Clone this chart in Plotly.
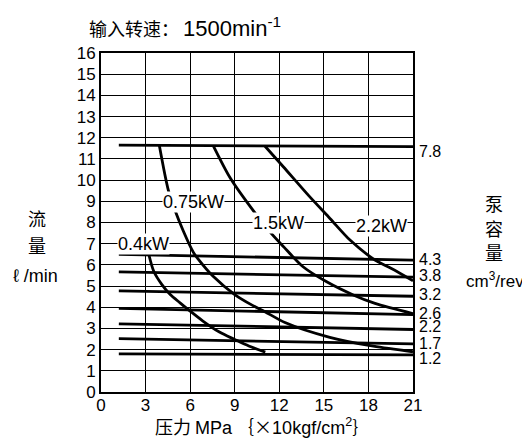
import plotly.graph_objects as go

# ---- data ----
pressure_ticks = [0, 3, 6, 9, 12, 15, 18, 21]
flow_ticks = list(range(0, 17))

# pump displacement lines
disp_labels = ["7.8", "4.3", "3.8", "3.2", "2.6", "2.2", "1.7", "1.2"]
disp_x0 = [1.2, 1.2, 1.2, 1.2, 1.2, 1.2, 1.2, 1.2]
disp_x1 = [21, 21, 21, 21, 21, 21, 21, 21]
disp_y0 = [11.65, 6.50, 5.67, 4.77, 3.95, 3.22, 2.52, 1.80]
disp_y1 = [11.58, 6.22, 5.42, 4.52, 3.65, 2.95, 2.27, 1.75]
disp_label_y = [11.37, 6.25, 5.50, 4.62, 3.72, 3.08, 2.30, 1.56]

# motor power curves
p04_x = [3.22, 3.55, 4.1, 4.66, 5.32, 6.0, 6.86, 7.97, 9.0, 9.95, 11.06]
p04_y = [6.49, 5.70, 5.07, 4.60, 4.21, 3.82, 3.35, 2.83, 2.48, 2.17, 1.88]

p075_x = [3.93, 4.53, 4.98, 5.54, 6.21, 6.53, 7.53, 9.0, 10.17, 11.06, 12.38, 15.4, 18.33, 21.0]
p075_y = [11.62, 9.53, 8.58, 7.60, 6.60, 6.28, 5.47, 4.60, 4.10, 3.78, 3.28, 2.58, 2.16, 1.90]

p15_x = [7.56, 8.7, 10.1, 11.37, 12.3, 13.6, 15.19, 16.98, 18.44, 21.0]
p15_y = [11.62, 10.1, 8.7, 7.56, 6.85, 5.91, 5.20, 4.58, 4.18, 3.70]

p22_x = [11.04, 12.27, 13.95, 15.41, 16.76, 18.44, 19.55, 21.0]
p22_y = [11.60, 10.63, 9.29, 8.19, 7.17, 6.23, 5.83, 5.25]

power_labels = ["0.4kW", "0.75kW", "1.5kW", "2.2kW"]
power_label_x = [2.88, 6.21, 11.93, 18.9]
power_label_y = [7.0, 8.95, 8.0, 7.85]

LAT = "Liberation Sans, Arial, sans-serif"
CJK = "Noto Sans CJK SC, Liberation Sans, sans-serif"

fig = go.Figure()

for x0, x1, y0, y1 in zip(disp_x0, disp_x1, disp_y0, disp_y1):
    fig.add_trace(go.Scatter(x=[x0, x1], y=[y0, y1], mode="lines",
                             line=dict(color="black", width=2.8),
                             hoverinfo="skip", showlegend=False))

for xs, ys in [(p04_x, p04_y), (p075_x, p075_y), (p15_x, p15_y), (p22_x, p22_y)]:
    fig.add_trace(go.Scatter(x=xs, y=ys, mode="lines",
                             line=dict(color="black", width=2.8, shape="spline", smoothing=0.8),
                             hoverinfo="skip", showlegend=False))

annotations = []
for t, x, y in zip(power_labels, power_label_x, power_label_y):
    annotations.append(dict(x=x, y=y, xref="x", yref="y", text=t, showarrow=False,
                            font=dict(family=LAT, size=18, color="black"),
                            bgcolor="white", borderpad=0,
                            xanchor="center", yanchor="middle"))

for t, y in zip(disp_labels, disp_label_y):
    annotations.append(dict(x=21, y=y, xref="x", yref="y", text=t, showarrow=False,
                            font=dict(family=LAT, size=16, color="black"),
                            xanchor="left", yanchor="middle", xshift=4))

# plot area in the page: x 101..413, y 53..392
W = 312.0
H = 339.0
def px(xp):
    return (xp - 101) / W
def py(yp):
    return (392 - yp) / H

# title
annotations.append(dict(x=px(87), y=py(27), xref="paper", yref="paper",
                        text='输入转速： <span style="font-family:Liberation Sans;font-size:22px">1500min<sup>-1</sup></span>',
                        showarrow=False, xanchor="left", yanchor="middle",
                        font=dict(family=CJK, size=18, color="black")))
# left axis label
for t, yy in [("流", 218), ("量", 245)]:
    annotations.append(dict(x=px(37), y=py(yy), xref="paper", yref="paper", text=t,
                            showarrow=False, xanchor="center", yanchor="middle",
                            font=dict(family=CJK, size=18, color="black")))
annotations.append(dict(x=px(35), y=py(276), xref="paper", yref="paper", text="ℓ /min",
                        showarrow=False, xanchor="center", yanchor="middle",
                        font=dict(family=LAT, size=18, color="black")))
# right axis label
for t, yy in [("泵", 203), ("容", 228), ("量", 252)]:
    annotations.append(dict(x=px(494), y=py(yy), xref="paper", yref="paper", text=t,
                            showarrow=False, xanchor="center", yanchor="middle",
                            font=dict(family=CJK, size=18, color="black")))
annotations.append(dict(x=px(495), y=py(280), xref="paper", yref="paper", text="cm<sup>3</sup>/rev",
                        showarrow=False, xanchor="center", yanchor="middle",
                        font=dict(family=LAT, size=17, color="black")))
# x axis title
annotations.append(dict(x=px(262), y=py(426), xref="paper", yref="paper",
                        text='压力 <span style="font-family:Liberation Sans">MPa</span> ｛×<span style="font-family:Liberation Sans">10kgf/cm<sup>2</sup></span>｝',
                        showarrow=False, xanchor="center", yanchor="middle",
                        font=dict(family=CJK, size=18, color="black")))

# the page adds an 8px body margin, so the figure is offset by 8px
fig.update_layout(
    width=522, height=432,
    margin=dict(l=93, r=117, t=45, b=48),
    paper_bgcolor="white", plot_bgcolor="white",
    annotations=annotations,
    showlegend=False,
)
fig.update_xaxes(range=[0, 21], tickvals=pressure_ticks, ticktext=[str(v) for v in pressure_ticks],
                 showgrid=True, gridcolor="black", gridwidth=1, zeroline=False,
                 showline=True, linecolor="black", linewidth=2, mirror=True,
                 ticks="", ticklabelstandoff=-3,
                 tickfont=dict(family=LAT, size=17, color="black"))
fig.update_yaxes(range=[0, 16], tickvals=flow_ticks, ticktext=[str(v) for v in flow_ticks],
                 showgrid=True, gridcolor="black", gridwidth=1, zeroline=False,
                 showline=True, linecolor="black", linewidth=2, mirror=True,
                 ticks="", tickfont=dict(family=LAT, size=17, color="black"))

fig.write_html("out.html")
